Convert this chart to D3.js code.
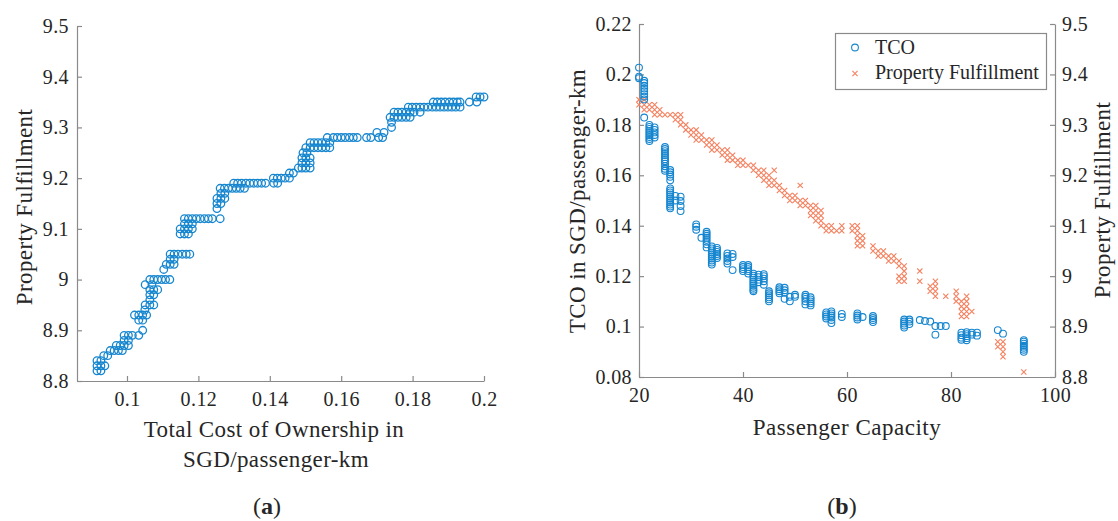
<!DOCTYPE html>
<html>
<head>
<meta charset="utf-8">
<script src="https://cdn.jsdelivr.net/npm/d3@7"></script>
<style>
  body { margin: 0; background: #fff; }
  text { font-family: "Liberation Serif", "Times New Roman", serif; fill: #262626; }
</style>
</head>
<body>
<svg id="fig" width="1118" height="521"></svg>
<script>
// ---- data: (a) Pareto front, rows of [property fulfillment, TCO values] ----
const paretoA = [
  [8.82, [0.0916, 0.0927]],
  [8.83, [0.0916, 0.0927, 0.0938]],
  [8.84, [0.0916, 0.0927]],
  [8.85, [0.0935, 0.0946]],
  [8.86, [0.0953, 0.0964, 0.0976, 0.0987]],
  [8.87, [0.0970, 0.0981, 0.0992, 0.1004]],
  [8.88, [0.0992, 0.1004]],
  [8.89, [0.0992, 0.1004, 0.1015, 0.1033]],
  [8.90, [0.1044]],
  [8.92, [0.1033, 0.1044]],
  [8.93, [0.1021, 0.1033, 0.1044, 0.1055]],
  [8.94, [0.1050]],
  [8.95, [0.1051, 0.1064, 0.1075]],
  [8.96, [0.1064]],
  [8.97, [0.1064, 0.1075]],
  [8.98, [0.1064, 0.1075, 0.1086]],
  [8.99, [0.1051, 0.1070]],
  [9.00, [0.1064, 0.1075, 0.1086, 0.1097, 0.1108, 0.1120]],
  [9.02, [0.1103]],
  [9.03, [0.1110, 0.1121, 0.1132]],
  [9.04, [0.1121, 0.1132]],
  [9.05, [0.1121, 0.1132, 0.1143, 0.1155, 0.1166, 0.1176]],
  [9.09, [0.1149, 0.1161, 0.1172]],
  [9.10, [0.1149, 0.1161, 0.1172, 0.1183]],
  [9.11, [0.1161, 0.1172, 0.1183]],
  [9.12, [0.1161, 0.1172, 0.1183, 0.1194, 0.1205, 0.1217, 0.1228, 0.1239, 0.1261]],
  [9.14, [0.1252]],
  [9.15, [0.1252, 0.1263]],
  [9.16, [0.1252, 0.1263, 0.1274]],
  [9.17, [0.1263, 0.1274]],
  [9.18, [0.1261, 0.1273, 0.1284, 0.1295, 0.1306, 0.1317, 0.1329]],
  [9.19, [0.1299, 0.1310, 0.1321, 0.1333, 0.1344, 0.1355, 0.1366, 0.1377, 0.1388, 0.1411, 0.1422]],
  [9.20, [0.1410, 0.1421, 0.1432, 0.1443, 0.1455]],
  [9.21, [0.1455, 0.1466]],
  [9.22, [0.1480, 0.1490, 0.1501, 0.1513]],
  [9.23, [0.1490, 0.1501, 0.1513]],
  [9.24, [0.1490, 0.1501, 0.1513]],
  [9.25, [0.1493, 0.1504]],
  [9.26, [0.1501, 0.1513, 0.1524, 0.1535, 0.1546, 0.1557, 0.1568]],
  [9.27, [0.1513, 0.1524, 0.1535, 0.1546, 0.1557, 0.1568]],
  [9.28, [0.1561, 0.1578, 0.1589, 0.1600, 0.1611, 0.1623, 0.1634, 0.1645, 0.1671, 0.1683, 0.1705, 0.1716]],
  [9.29, [0.1700, 0.1720]],
  [9.30, [0.1741]],
  [9.31, [0.1741]],
  [9.32, [0.1737, 0.1748, 0.1759, 0.1770, 0.1782, 0.1793]],
  [9.33, [0.1748, 0.1759, 0.1770, 0.1782, 0.1793, 0.1804, 0.1821]],
  [9.34, [0.1788, 0.1799, 0.1810, 0.1821, 0.1832, 0.1843, 0.1855, 0.1866, 0.1877, 0.1888, 0.1899, 0.1910, 0.1921, 0.1933]],
  [9.35, [0.1858, 0.1869, 0.1880, 0.1891, 0.1903, 0.1914, 0.1925, 0.1933, 0.1959, 0.1980]],
  [9.36, [0.1978, 0.1989, 0.2000]]
];

// ---- data: (b) TCO by passenger capacity, [capacity, TCO values] ----
const tcoB = [
  [20, [0.2027, 0.1991, 0.1985]],
  [21, [0.1975, 0.1966, 0.1955, 0.1944, 0.1933, 0.1922, 0.1912, 0.1901, 0.1829]],
  [22, [0.1800, 0.1792, 0.1784, 0.1776, 0.1768, 0.1760, 0.1752, 0.1744, 0.1736]],
  [23, [0.1790, 0.1780, 0.1770, 0.1760, 0.1750]],
  [25, [0.1712, 0.1704, 0.1696, 0.1688, 0.1680, 0.1672, 0.1664, 0.1656, 0.1646, 0.1636, 0.1626, 0.1618]],
  [26, [0.1621, 0.1612, 0.1603, 0.1594, 0.1580, 0.1548, 0.1540, 0.1532, 0.1524, 0.1516, 0.1508, 0.1500, 0.1492, 0.1484, 0.1476, 0.1469]],
  [27, [0.1518, 0.1500]],
  [28, [0.1515, 0.1498, 0.1478, 0.1458]],
  [31, [0.1405, 0.1396, 0.1384]],
  [32, [0.1352]],
  [33, [0.1376, 0.1368, 0.1360, 0.1352, 0.1344, 0.1336, 0.1326, 0.1314]],
  [34, [0.1318, 0.1310, 0.1302, 0.1294, 0.1286, 0.1278, 0.1270, 0.1262, 0.1254, 0.1246]],
  [35, [0.1312, 0.1304, 0.1296, 0.1288, 0.1280, 0.1272]],
  [37, [0.1290, 0.1280, 0.1270, 0.1260, 0.1250]],
  [38, [0.1288, 0.1276, 0.1224]],
  [40, [0.1244, 0.1236, 0.1228, 0.1220]],
  [41, [0.1244, 0.1236, 0.1228, 0.1220, 0.1210]],
  [42, [0.1210, 0.1202, 0.1194, 0.1186, 0.1178, 0.1170, 0.1162, 0.1154, 0.1146, 0.1140]],
  [43, [0.1206, 0.1196, 0.1186, 0.1176]],
  [44, [0.1208, 0.1200, 0.1190, 0.1180, 0.1166]],
  [45, [0.1140, 0.1132, 0.1124, 0.1116, 0.1108, 0.1100]],
  [47, [0.1156, 0.1148, 0.1140, 0.1132]],
  [48, [0.1154, 0.1144, 0.1134, 0.1110]],
  [49, [0.1118, 0.1100]],
  [50, [0.1126, 0.1118]],
  [52, [0.1126, 0.1118, 0.1110, 0.1100, 0.1088]],
  [53, [0.1116, 0.1108, 0.1100, 0.1092, 0.1084]],
  [56, [0.1056, 0.1048, 0.1040, 0.1032]],
  [57, [0.1060, 0.1052, 0.1044, 0.1036, 0.1026, 0.1014]],
  [59, [0.1050, 0.1038]],
  [62, [0.1052, 0.1044, 0.1036, 0.1028]],
  [63, [0.1038]],
  [65, [0.1042, 0.1034, 0.1026, 0.1018]],
  [71, [0.1028, 0.1020, 0.1012, 0.1004, 0.0996]],
  [72, [0.1028, 0.1020, 0.1010]],
  [74, [0.1026]],
  [75, [0.1022]],
  [76, [0.1020]],
  [77, [0.1002, 0.0968]],
  [78, [0.1002]],
  [79, [0.1002]],
  [82, [0.0976, 0.0966, 0.0956, 0.0948]],
  [83, [0.0978, 0.0970, 0.0962, 0.0954, 0.0946]],
  [84, [0.0976, 0.0968]],
  [85, [0.0976, 0.0964]],
  [89, [0.0986]],
  [90, [0.0972]],
  [94, [0.0946, 0.0940, 0.0932, 0.0924, 0.0916, 0.0908, 0.0900]]
];

// ---- data: (b) property fulfillment by passenger capacity ----
const pfB = [
  [20, [9.35, 9.34]],
  [21, [9.35, 9.34, 9.33]],
  [22, [9.34, 9.33]],
  [23, [9.34, 9.33, 9.32]],
  [24, [9.33, 9.32]],
  [25, [9.32]],
  [26, [9.32]],
  [27, [9.32, 9.31]],
  [28, [9.32, 9.31, 9.30]],
  [29, [9.30, 9.29]],
  [30, [9.29, 9.28]],
  [31, [9.29, 9.28, 9.27]],
  [32, [9.28, 9.27]],
  [33, [9.27, 9.26]],
  [34, [9.27, 9.26, 9.25]],
  [35, [9.26, 9.25]],
  [36, [9.25, 9.24]],
  [37, [9.25, 9.24, 9.23]],
  [38, [9.24, 9.23]],
  [39, [9.23, 9.22]],
  [40, [9.23, 9.22]],
  [41, [9.22]],
  [42, [9.22, 9.21]],
  [43, [9.21, 9.20]],
  [44, [9.21, 9.20, 9.19]],
  [45, [9.20, 9.19, 9.18]],
  [46, [9.21, 9.19, 9.18]],
  [47, [9.18, 9.17]],
  [48, [9.17, 9.16]],
  [49, [9.16, 9.15]],
  [50, [9.16, 9.15]],
  [51, [9.18, 9.15, 9.14]],
  [52, [9.15, 9.14]],
  [53, [9.14, 9.13, 9.12]],
  [54, [9.14, 9.13, 9.12, 9.11]],
  [55, [9.13, 9.12, 9.11, 9.10]],
  [56, [9.10, 9.09]],
  [57, [9.10, 9.09]],
  [58, [9.09]],
  [59, [9.10, 9.09]],
  [61, [9.10, 9.09]],
  [62, [9.10, 9.09, 9.08, 9.07, 9.06]],
  [63, [9.08, 9.07, 9.06]],
  [65, [9.06, 9.05]],
  [66, [9.05, 9.04]],
  [67, [9.05, 9.04]],
  [68, [9.04, 9.03]],
  [69, [9.04, 9.03]],
  [70, [9.03, 9.02, 9.00, 8.99]],
  [71, [9.02, 9.01, 9.00, 8.99]],
  [74, [9.01, 8.99]],
  [76, [8.98, 8.97]],
  [77, [8.99, 8.98, 8.97, 8.96]],
  [79, [8.96]],
  [81, [8.97, 8.96, 8.95]],
  [82, [8.95, 8.94, 8.93, 8.92]],
  [83, [8.96, 8.95, 8.94, 8.93, 8.92]],
  [84, [8.93]],
  [89, [8.87, 8.86]],
  [90, [8.87, 8.86, 8.85, 8.84]],
  [94, [8.81]]
];

// ---- tick values ----
const ticksAx = [0.1, 0.12, 0.14, 0.16, 0.18, 0.2];
const ticksPF = [8.8, 8.9, 9.0, 9.1, 9.2, 9.3, 9.4, 9.5];
const ticksCap = [20, 40, 60, 80, 100];
const ticksTCO = [0.08, 0.1, 0.12, 0.14, 0.16, 0.18, 0.2, 0.22];

const blue = "#1686cf";
const orange = "#f5805f";
const axisGrey = "#8a8a8a";
const fmt = d3.format("~g");

const svg = d3.select("#fig");

function styleAxis(g) {
  g.attr("font-size", null).attr("font-family", null);
  g.select(".domain").attr("stroke", axisGrey).attr("stroke-width", 1.2);
  g.selectAll(".tick line").attr("stroke", axisGrey).attr("stroke-width", 1.2);
  g.selectAll(".tick text").attr("fill", "#262626")
    .style("font-size", "20px").style("letter-spacing", "0.4px");
}

// ================= (a) =================
const xA = d3.scaleLinear().domain([0.086, 0.2]).range([77, 484]);
const yA = d3.scaleLinear().domain([8.8, 9.5]).range([381, 26]);

svg.append("g")
    .attr("transform", `translate(0,${yA(8.8)})`)
    .call(d3.axisBottom(xA).tickValues(ticksAx).tickFormat(fmt)
      .tickSizeInner(-5).tickSizeOuter(0).tickPadding(11))
    .call(styleAxis);

svg.append("g")
    .attr("transform", `translate(${xA(0.086)},0)`)
    .call(d3.axisLeft(yA).tickValues(ticksPF).tickFormat(fmt)
      .tickSizeInner(-5).tickSizeOuter(0).tickPadding(8))
    .call(styleAxis);

const pointsA = paretoA.flatMap(([pf, xs]) => xs.map(t => ({ tco: t, pf: pf })));

svg.append("g")
  .selectAll("circle")
  .data(pointsA)
  .join("circle")
    .attr("cx", d => xA(d.tco))
    .attr("cy", d => yA(d.pf))
    .attr("r", 3.8)
    .attr("fill", "none")
    .attr("stroke", blue)
    .attr("stroke-width", 1.3);

svg.append("text")
    .attr("transform", "translate(32,207) rotate(-90)")
    .attr("text-anchor", "middle")
    .style("font-size", "23px").style("letter-spacing", "0.4px")
    .text("Property Fulfillment");

svg.append("text")
    .attr("x", 274).attr("y", 437)
    .attr("text-anchor", "middle")
    .style("font-size", "23px").style("letter-spacing", "0.4px")
    .text("Total Cost of Ownership in");

svg.append("text")
    .attr("x", 276).attr("y", 467)
    .attr("text-anchor", "middle")
    .style("font-size", "23px").style("letter-spacing", "0.4px")
    .text("SGD/passenger-km");

// ================= (b) =================
const xB = d3.scaleLinear().domain([20, 100]).range([639, 1055]);
const yB = d3.scaleLinear().domain([0.08, 0.22]).range([377, 24]);
const yB2 = d3.scaleLinear().domain([8.8, 9.5]).range([377, 24]);

svg.append("g")
    .attr("transform", `translate(0,${yB(0.08)})`)
    .call(d3.axisBottom(xB).tickValues(ticksCap).tickFormat(fmt)
      .tickSizeInner(-5).tickSizeOuter(0).tickPadding(11))
    .call(styleAxis);

svg.append("g")
    .attr("transform", `translate(${xB(20)},0)`)
    .call(d3.axisLeft(yB).tickValues(ticksTCO).tickFormat(fmt)
      .tickSizeInner(-5).tickSizeOuter(0).tickPadding(7))
    .call(styleAxis);

svg.append("g")
    .attr("transform", `translate(${xB(100)},0)`)
    .call(d3.axisRight(yB2).tickValues(ticksPF).tickFormat(fmt)
      .tickSizeInner(-5).tickSizeOuter(0).tickPadding(7))
    .call(styleAxis);

const pointsTCO = tcoB.flatMap(([cap, vs]) => vs.map(v => ({ cap: cap, v: v })));
const pointsPF = pfB.flatMap(([cap, vs]) => vs.map(v => ({ cap: cap, v: v })));

const cross = "M-2.6,-2.6L2.6,2.6M-2.6,2.6L2.6,-2.6";

svg.append("g")
  .selectAll("path")
  .data(pointsPF)
  .join("path")
    .attr("transform", d => `translate(${xB(d.cap)},${yB2(d.v)})`)
    .attr("d", cross)
    .attr("fill", "none")
    .attr("stroke", orange)
    .attr("stroke-width", 1.1);

svg.append("g")
  .selectAll("circle")
  .data(pointsTCO)
  .join("circle")
    .attr("cx", d => xB(d.cap))
    .attr("cy", d => yB(d.v))
    .attr("r", 3.4)
    .attr("fill", "none")
    .attr("stroke", blue)
    .attr("stroke-width", 1.1);

svg.append("text")
    .attr("transform", "translate(585,201) rotate(-90)")
    .attr("text-anchor", "middle")
    .style("font-size", "23px").style("letter-spacing", "0.4px")
    .text("TCO in SGD/passenger-km");

svg.append("text")
    .attr("transform", "translate(1110,200) rotate(-90)")
    .attr("text-anchor", "middle")
    .style("font-size", "23px").style("letter-spacing", "0.4px")
    .text("Property Fulfillment");

svg.append("text")
    .attr("x", 847).attr("y", 435)
    .attr("text-anchor", "middle")
    .style("font-size", "23px").style("letter-spacing", "0.5px")
    .text("Passenger Capacity");

// legend
const legend = svg.append("g");
legend.append("rect")
    .attr("x", 835.5).attr("y", 33.5).attr("width", 211).attr("height", 56)
    .attr("fill", "#fff").attr("stroke", axisGrey).attr("stroke-width", 1.2);
legend.append("circle")
    .attr("cx", 855).attr("cy", 47.5).attr("r", 3.4)
    .attr("fill", "none").attr("stroke", blue).attr("stroke-width", 1.1);
legend.append("path")
    .attr("transform", "translate(855,73.5)")
    .attr("d", cross).attr("fill", "none").attr("stroke", orange).attr("stroke-width", 1.1);
legend.append("text").attr("x", 875).attr("y", 54)
    .style("font-size", "20px").text("TCO");
legend.append("text").attr("x", 875).attr("y", 79)
    .style("font-size", "20px").text("Property Fulfillment");

// panel captions
[["a", 267], ["b", 842]].forEach(([c, x]) => {
  const t = svg.append("text").attr("x", x).attr("y", 514)
      .attr("text-anchor", "middle").style("font-size", "24px");
  t.append("tspan").text("(");
  t.append("tspan").style("font-weight", "bold").text(c);
  t.append("tspan").text(")");
});
</script>
</body>
</html>
